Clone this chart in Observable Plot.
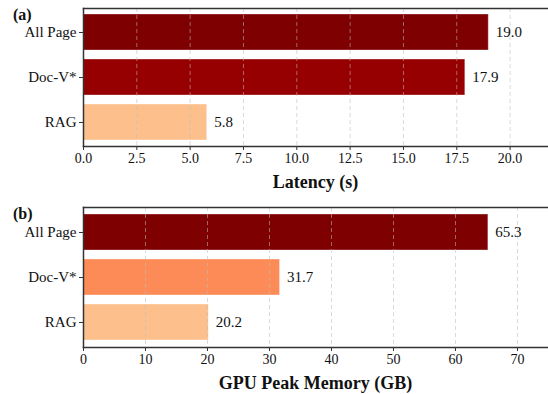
<!DOCTYPE html>
<html>
<head>
<meta charset="utf-8">
<script src="https://cdn.jsdelivr.net/npm/d3@7"></script>
<script src="https://cdn.jsdelivr.net/npm/@observablehq/plot@0.6"></script>
<style>
  body { margin: 0; background: #fff; }
  #chart { width: 548px; }
  #chart svg { display: block; }
</style>
</head>
<body>
<div id="chart"></div>
<script>
// Methods, top to bottom
const methods = ["All Page", "Doc-V*", "RAG"];

// Panel (a): latency in seconds
const latency = [19.0, 17.9, 5.8];
const latencyColors = ["#7f0000", "#960000", "#fdc08c"];
const latencyTicks = [0, 2.5, 5, 7.5, 10, 12.5, 15, 17.5, 20];

// Panel (b): GPU peak memory in GB
const memory = [65.3, 31.7, 20.2];
const memoryColors = ["#7f0000", "#fc8b58", "#fdc08c"];
const memoryTicks = [0, 10, 20, 30, 40, 50, 60, 70];

const serif = "'Liberation Serif', 'Times New Roman', serif";

function panel({tag, values, colors, ticks, fmt, domain, label, marginTop, plotHeight, height}) {
  const rows = methods.map((m, i) => ({method: m, value: values[i], color: colors[i]}));
  const spine = {stroke: "#333", strokeWidth: 1.5};
  const chart = Plot.plot({
    width: 548,
    height,
    marginLeft: 83,
    marginRight: 0,
    marginTop,
    marginBottom: height - marginTop - plotHeight,
    style: {fontFamily: serif, fontSize: "14px", color: "#111", background: "#fff"},
    x: {domain, ticks, tickFormat: fmt},
    y: {domain: methods, padding: 0.2, paddingOuter: 0.13},
    marks: [
      Plot.barX(rows, {x: "value", y: "method", fill: "color", stroke: "#fff", strokeOpacity: 0.35, strokeWidth: 1}),
      Plot.gridX({ticks, stroke: "#bbb", strokeOpacity: 0.55, strokeDasharray: "4,3", strokeWidth: 1}),
      Plot.text(rows, {x: "value", y: "method", text: d => d.value.toFixed(1), textAnchor: "start", dx: 7, fontSize: 15, fill: "#111"}),
      Plot.axisY({tickSize: 4, tickPadding: 3, fontSize: 15, label: null, stroke: "#333"}),
      Plot.axisX({ticks, tickFormat: fmt, tickSize: 4, tickPadding: 3, fontSize: 14, label: null, stroke: "#333"}),
      Plot.frame({anchor: "left", ...spine}),
      Plot.frame({anchor: "bottom", ...spine}),
      Plot.frame({anchor: "top", ...spine})
    ]
  });
  const svg = d3.select(chart);
  // panel tag in the upper-left corner
  svg.append("text")
    .attr("x", 13).attr("y", marginTop + 12)
    .attr("text-anchor", "start")
    .attr("font-family", serif).attr("font-size", 16).attr("font-weight", "bold")
    .attr("fill", "#111")
    .text(tag);
  // bold axis title centred under the plot area
  svg.append("text")
    .attr("x", (83 + 548) / 2).attr("y", marginTop + plotHeight + 42)
    .attr("text-anchor", "middle")
    .attr("font-family", serif).attr("font-size", 18).attr("font-weight", "bold")
    .attr("fill", "#111")
    .text(label);
  return chart;
}

const root = document.getElementById("chart");
root.append(panel({
  tag: "(a)", values: latency, colors: latencyColors, ticks: latencyTicks,
  fmt: d3.format(".1f"), domain: [0, 21.8], label: "Latency (s)",
  marginTop: 8, plotHeight: 138, height: 195
}));
root.append(panel({
  tag: "(b)", values: memory, colors: memoryColors, ticks: memoryTicks,
  fmt: d3.format("d"), domain: [0, 75], label: "GPU Peak Memory (GB)",
  marginTop: 12, plotHeight: 140, height: 199
}));
</script>
</body>
</html>
